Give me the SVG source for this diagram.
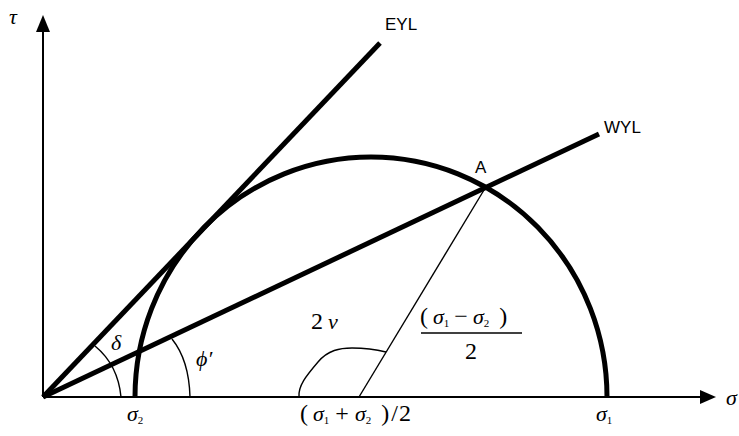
<svg xmlns="http://www.w3.org/2000/svg" width="739" height="436" viewBox="0 0 739 436">
<defs>
<style>
.ax{stroke:#000;stroke-width:2;fill:none}
.thick{stroke:#000;stroke-width:5;fill:none;stroke-linecap:butt}
.thin{stroke:#000;stroke-width:1.4;fill:none}
.lab{font-family:"Liberation Sans",Arial,sans-serif;font-size:17px;fill:#000}
.m{font-family:"Liberation Serif","Times New Roman",serif;font-size:24px;fill:#000}
.mi{font-family:"Liberation Serif","Times New Roman",serif;font-size:22px;font-style:italic;fill:#000}
.sub{font-family:"Liberation Serif","Times New Roman",serif;font-size:11px;fill:#000}
</style>
</defs>
<rect width="739" height="436" fill="#fff"/>
<g id="axes">
<line class="ax" x1="43" y1="397" x2="702" y2="397"/>
<polygon points="716,397 700,390 700,404" fill="#000"/>
<line class="ax" x1="43" y1="397" x2="43" y2="30"/>
<polygon points="43,15 36,32 50,32" fill="#000"/>
<text class="mi" x="9" y="24">τ</text>
<text class="mi" x="726" y="405">σ</text>
</g>
<g id="circle">
<path class="thick" d="M135,397 A236,240 0 0 1 607,397"/>
</g>
<g id="connectors">
<line id="eyl" class="thick" x1="43" y1="397" x2="380" y2="43"/>
<line id="wyl" class="thick" x1="43" y1="397" x2="599" y2="134"/>
<line id="radius" class="thin" x1="359" y1="397" x2="484" y2="190"/>
<path id="arc-delta" class="thin" d="M95,346 Q118,365 121,397"/>
<path id="arc-phi" class="thin" d="M172,339 Q189,360 190,397"/>
<path id="arc-2nu" class="thin" d="M299,397 C298,386 306,376 318,362 C328,350 340,348 352,348 C365,348 378,350 386,352"/>
</g>
<g id="labels">
<text class="lab" x="385" y="30">EYL</text>
<text class="lab" x="604" y="133">WYL</text>
<text class="lab" x="475" y="173">A</text>
<text class="mi" x="111" y="350">δ</text>
<text class="mi" x="196" y="366">ϕ′</text>
<text class="m" x="311" y="329">2<tspan class="mi" dx="5">ν</tspan></text>
<text x="127" y="421"><tspan class="mi">σ</tspan><tspan class="sub" dy="3">2</tspan></text>
<text x="596" y="421"><tspan class="mi">σ</tspan><tspan class="sub" dy="3">1</tspan></text>
<text x="420" y="324"><tspan class="m">(</tspan><tspan class="mi" dx="5">σ</tspan><tspan class="sub" dy="3">1</tspan><tspan class="m" dy="-3" dx="5">−</tspan><tspan class="mi" dx="5">σ</tspan><tspan class="sub" dy="3">2</tspan><tspan class="m" dy="-3" dx="10">)</tspan></text>
<line x1="421" y1="333" x2="522" y2="333" stroke="#000" stroke-width="1.5"/>
<text class="m" x="465" y="359">2</text>
<text x="300" y="421"><tspan class="m">(</tspan><tspan class="mi" dx="5">σ</tspan><tspan class="sub" dy="3">1</tspan><tspan class="m" dy="-3" dx="6">+</tspan><tspan class="mi" dx="6">σ</tspan><tspan class="sub" dy="3">2</tspan><tspan class="m" dy="-3" dx="10">)</tspan><tspan class="m" dx="2" font-size="27">/</tspan><tspan class="m" dx="1" font-size="26">2</tspan></text>
</g>
</svg>
